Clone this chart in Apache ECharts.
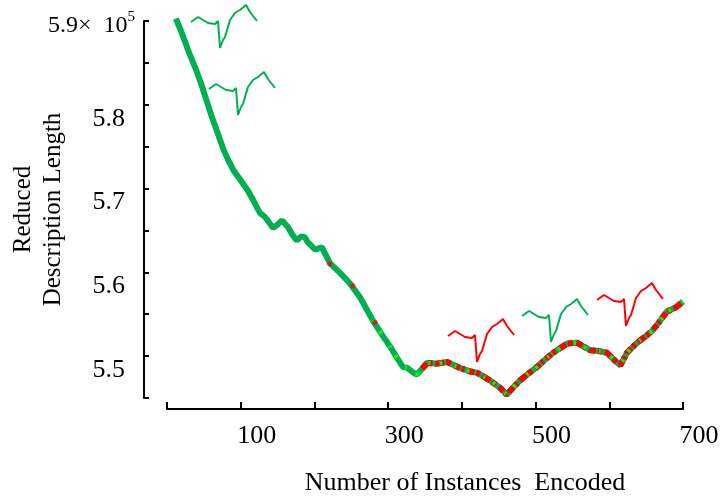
<!DOCTYPE html>
<html>
<head>
<meta charset="utf-8">
<script src="https://cdn.jsdelivr.net/npm/echarts@6/dist/echarts.min.js"></script>
<style>
  html, body { margin: 0; padding: 0; background: #fff; }
  #chart { width: 722px; height: 498px; }
</style>
</head>
<body>
<div id="chart"></div>
<script>
// Description length as instances are encoded
const instances = [12, 20, 30, 38, 46, 54, 61, 68, 76, 82, 90, 99, 103, 110, 117, 126, 133, 144, 150, 156, 164,
  170, 176, 182, 187, 191, 201, 210, 221, 235, 248, 262, 279, 292, 303, 312, 320, 326, 333, 339, 346,
  353, 366, 380, 397, 410, 421, 438, 452, 461, 470, 479, 490, 502, 513, 524, 543, 556, 566, 574, 586,
  597, 606, 615, 624, 633, 642, 650, 659, 668, 678, 690, 700];
const descLength = [5.903, 5.886, 5.862, 5.845, 5.826, 5.804, 5.785, 5.768, 5.748, 5.736, 5.722, 5.711, 5.706, 5.697, 5.686, 5.671, 5.666, 5.653, 5.657, 5.662, 5.654,
  5.645, 5.638, 5.643, 5.642, 5.636, 5.627, 5.630, 5.611, 5.599, 5.587, 5.570, 5.543, 5.525, 5.511, 5.498, 5.487, 5.486, 5.481, 5.478, 5.485,
  5.492, 5.491, 5.493, 5.486, 5.482, 5.480, 5.471, 5.462, 5.454, 5.463, 5.471, 5.479, 5.487, 5.496, 5.504, 5.515, 5.516, 5.511, 5.507, 5.506,
  5.504, 5.496, 5.489, 5.504, 5.512, 5.519, 5.524, 5.531, 5.541, 5.553, 5.558, 5.565];

// where the highlighted stretches of the curve begin
const limeFrom = 279;
const redFrom = 346;
// isolated red marks on the descending part
const redMarkX = [221, 252, 282];
const redMarkY = [5.610, 5.584, 5.540];

// axis ticks and labels
const xTickLabels = [100, 300, 500, 700];
const yTickValues = [5.5, 5.6, 5.7, 5.8, 5.9];
const yTickLabels = ['5.5', '5.6', '5.7', '5.8', '5.9×  10'];
const yExponent = '5';

// small motif snippets shown on the plot
const motifX = [0, 7, 12, 17, 24, 27, 29, 32, 34, 39, 44, 49, 55, 59, 66];
const motifY = [26, 31, 28, 25, 24, 27, 0, 8, 11, 28, 35, 38, 43, 36, 27];
const motifColors = ['green', 'green', 'red', 'green', 'red'];

const GREEN = '#00b050', RED = '#ff0000', LIME = '#00ff00';
const FONT = '"Liberation Serif", "Times New Roman", serif';

const points = instances.map((x, i) => [x, descLength[i]]);
const motif = motifX.map((x, i) => [x, motifY[i]]);

// placement of the motif snippets
const motifBoxes = [
  { left: 191, top: 5 },
  { left: 209, top: 72 },
  { left: 448, top: 319 },
  { left: 522, top: 299 },
  { left: 597, top: 283 }
];

const grids = [{ left: 167, right: 39, top: 21, bottom: 100, outerBoundsMode: 'none', containLabel: false }];
const xAxes = [{
  type: 'value', gridIndex: 0, min: 0, max: 700, interval: 100, offset: 11,
  axisLine: { onZero: false, lineStyle: { color: '#000', width: 2 } },
  axisTick: { inside: true, length: 7, lineStyle: { color: '#000', width: 2 } },
  splitLine: { show: false },
  axisLabel: {
    margin: 14, fontSize: 26, fontFamily: FONT, color: '#000', padding: [0, 0, 0, 32],
    formatter: v => xTickLabels.includes(Math.round(v)) ? String(Math.round(v)) : ''
  },
  name: 'Number of Instances  Encoded', nameLocation: 'middle', nameGap: 61, nameMoveOverlap: false,
  nameTextStyle: { fontSize: 26, fontFamily: FONT, color: '#000', padding: [0, 0, 0, 80] }
}];
const yAxes = [{
  type: 'value', gridIndex: 0, min: 5.45, max: 5.9, interval: 0.05, offset: 23,
  axisLine: { onZero: false, lineStyle: { color: '#000', width: 2 } },
  axisTick: { inside: true, length: 5, lineStyle: { color: '#000', width: 2 } },
  splitLine: { show: false },
  axisLabel: {
    margin: 9, color: '#000', fontFamily: FONT, fontSize: 24,
    formatter: v => {
      const i = yTickValues.findIndex(t => Math.abs(t - v) < 1e-6);
      if (i < 0) return '';
      if (i === yTickValues.length - 1) return '{a|' + yTickLabels[i] + '}{s|' + yExponent + '}';
      return '{b|' + yTickLabels[i] + '}';
    },
    rich: {
      a: { fontSize: 24, fontFamily: FONT, color: '#000', padding: [9, 0, 0, 0] },
      s: { fontSize: 15, fontFamily: FONT, color: '#000', verticalAlign: 'top', padding: [5, 0, 0, 0] },
      b: { fontSize: 26, fontFamily: FONT, color: '#000', padding: [28, 10, 0, 0] }
    }
  },
  name: 'Reduced\nDescription Length', nameLocation: 'middle', nameGap: 76, nameRotate: 90, nameMoveOverlap: false,
  nameTextStyle: { fontSize: 25, fontFamily: FONT, color: '#000', lineHeight: 30 }
}];

const series = [
  {
    type: 'line', xAxisIndex: 0, yAxisIndex: 0, data: points, symbol: 'none',
    lineStyle: { color: GREEN, width: 6 }, z: 2
  },
  {
    type: 'line', xAxisIndex: 0, yAxisIndex: 0, data: points.filter(p => p[0] >= redFrom), symbol: 'none',
    lineStyle: { color: RED, width: 6, type: [7, 2, 4, 3, 9, 2, 5, 4, 6, 2, 3, 3] }, z: 3
  },
  {
    type: 'line', xAxisIndex: 0, yAxisIndex: 0, data: points.filter(p => p[0] >= limeFrom), symbol: 'none',
    lineStyle: { color: LIME, width: 4, type: [2, 11, 3, 15, 2, 9, 3, 13] }, z: 4
  },
  {
    type: 'scatter', xAxisIndex: 0, yAxisIndex: 0, data: redMarkX.map((x, i) => [x, redMarkY[i]]),
    symbol: 'circle', symbolSize: 5, itemStyle: { color: RED }, z: 5
  }
];

motifBoxes.forEach((b, k) => {
  const gi = k + 1;
  grids.push({ left: b.left, top: b.top, width: 66, height: 43, outerBoundsMode: 'none' });
  xAxes.push({ type: 'value', gridIndex: gi, min: 0, max: 66, show: false });
  yAxes.push({ type: 'value', gridIndex: gi, min: 0, max: 43, show: false });
  series.push({
    type: 'line', xAxisIndex: gi, yAxisIndex: gi, data: motif, symbol: 'none',
    lineStyle: { color: motifColors[k] === 'red' ? RED : GREEN, width: 2 }, z: 6
  });
});

const chart = echarts.init(document.getElementById('chart'));
chart.setOption({
  animation: false,
  backgroundColor: '#fff',
  grid: grids,
  xAxis: xAxes,
  yAxis: yAxes,
  series: series
});
</script>
</body>
</html>
